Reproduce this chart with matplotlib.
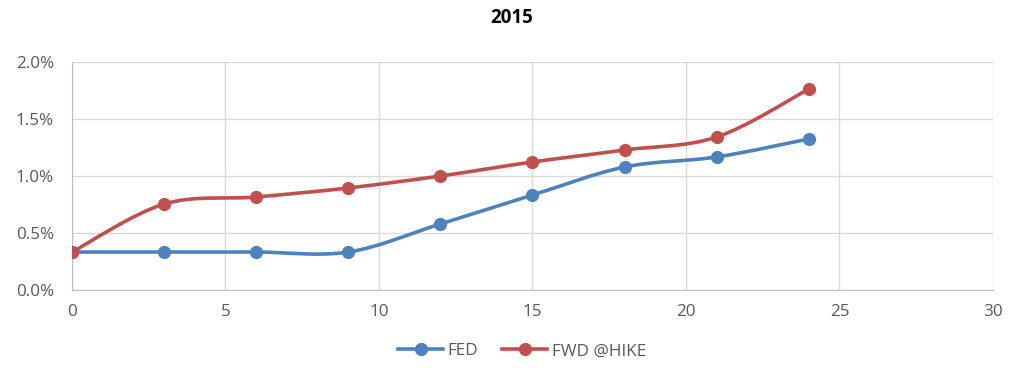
import matplotlib
matplotlib.use("Agg")
import matplotlib.pyplot as plt
import numpy as np
from matplotlib.path import Path
from matplotlib.patches import PathPatch
from matplotlib.lines import Line2D
from matplotlib.ticker import PercentFormatter

# =============== data ===============
months = [0, 3, 6, 9, 12, 15, 18, 21, 24]
fed = [0.333, 0.333, 0.333, 0.333, 0.579, 0.833, 1.079, 1.167, 1.325]
fwd_hike = [0.333, 0.754, 0.816, 0.895, 1.000, 1.123, 1.228, 1.342, 1.763]

series_names = ["FED", "FWD @HIKE"]
colors = ["#4F81BD", "#C0504D"]
title = "2015"

plt.rcParams['font.family'] = ['Open Sans', 'DejaVu Sans']


def smooth_path(x, y):
    # excel-like smoothed line: catmull-rom as cubic bezier segments
    pts = np.column_stack([x, y]).astype(float)
    n = len(pts)
    verts = [pts[0]]
    codes = [Path.MOVETO]
    for i in range(n - 1):
        p0 = pts[max(i - 1, 0)]
        p1 = pts[i]
        p2 = pts[i + 1]
        p3 = pts[min(i + 2, n - 1)]
        c1 = p1 + (p2 - p0) / 6
        c2 = p2 - (p3 - p1) / 6
        verts += [c1, c2, p2]
        codes += [Path.CURVE4] * 3
    return Path(verts, codes)


fig = plt.figure(figsize=(10.24, 3.84), dpi=100)
ax = fig.add_axes([0.0703, 0.2448, 0.8994, 0.5937])

for vals, col in zip([fed, fwd_hike], colors):
    patch = PathPatch(smooth_path(months, vals), facecolor='none', edgecolor=col,
                      lw=2.6, capstyle='round', joinstyle='round', zorder=3)
    ax.add_patch(patch)
    ax.plot(months, vals, 'o', color=col, ms=8.5, zorder=4)

ax.set_xlim(0, 30)
ax.set_ylim(0, 2.0)
ax.set_xticks(np.arange(0, 31, 5))
ax.set_yticks(np.arange(0, 2.01, 0.5))
ax.yaxis.set_major_formatter(PercentFormatter(decimals=1))
ax.grid(True, color='#D9D9D9', lw=1)
ax.set_axisbelow(True)
for s in ['top', 'right']:
    ax.spines[s].set_visible(False)
for s in ['left', 'bottom']:
    ax.spines[s].set_color('#BFBFBF')
ax.tick_params(length=0, labelsize=12.3, labelcolor='#595959')
ax.tick_params(axis='y', pad=13)
ax.tick_params(axis='x', pad=10)

fig.suptitle(title, y=0.98, fontsize=13.5, fontweight='bold')

handles = [Line2D([], [], color=c, lw=2.6, marker='o', ms=8.5) for c in colors]
fig.legend(handles, series_names, loc='center', bbox_to_anchor=(0.51, 0.085), ncol=2,
           frameon=False, fontsize=12.3, labelcolor='#595959', handlelength=2.6,
           handletextpad=0.3, columnspacing=1.4)

fig.savefig("out.png", dpi=100)
